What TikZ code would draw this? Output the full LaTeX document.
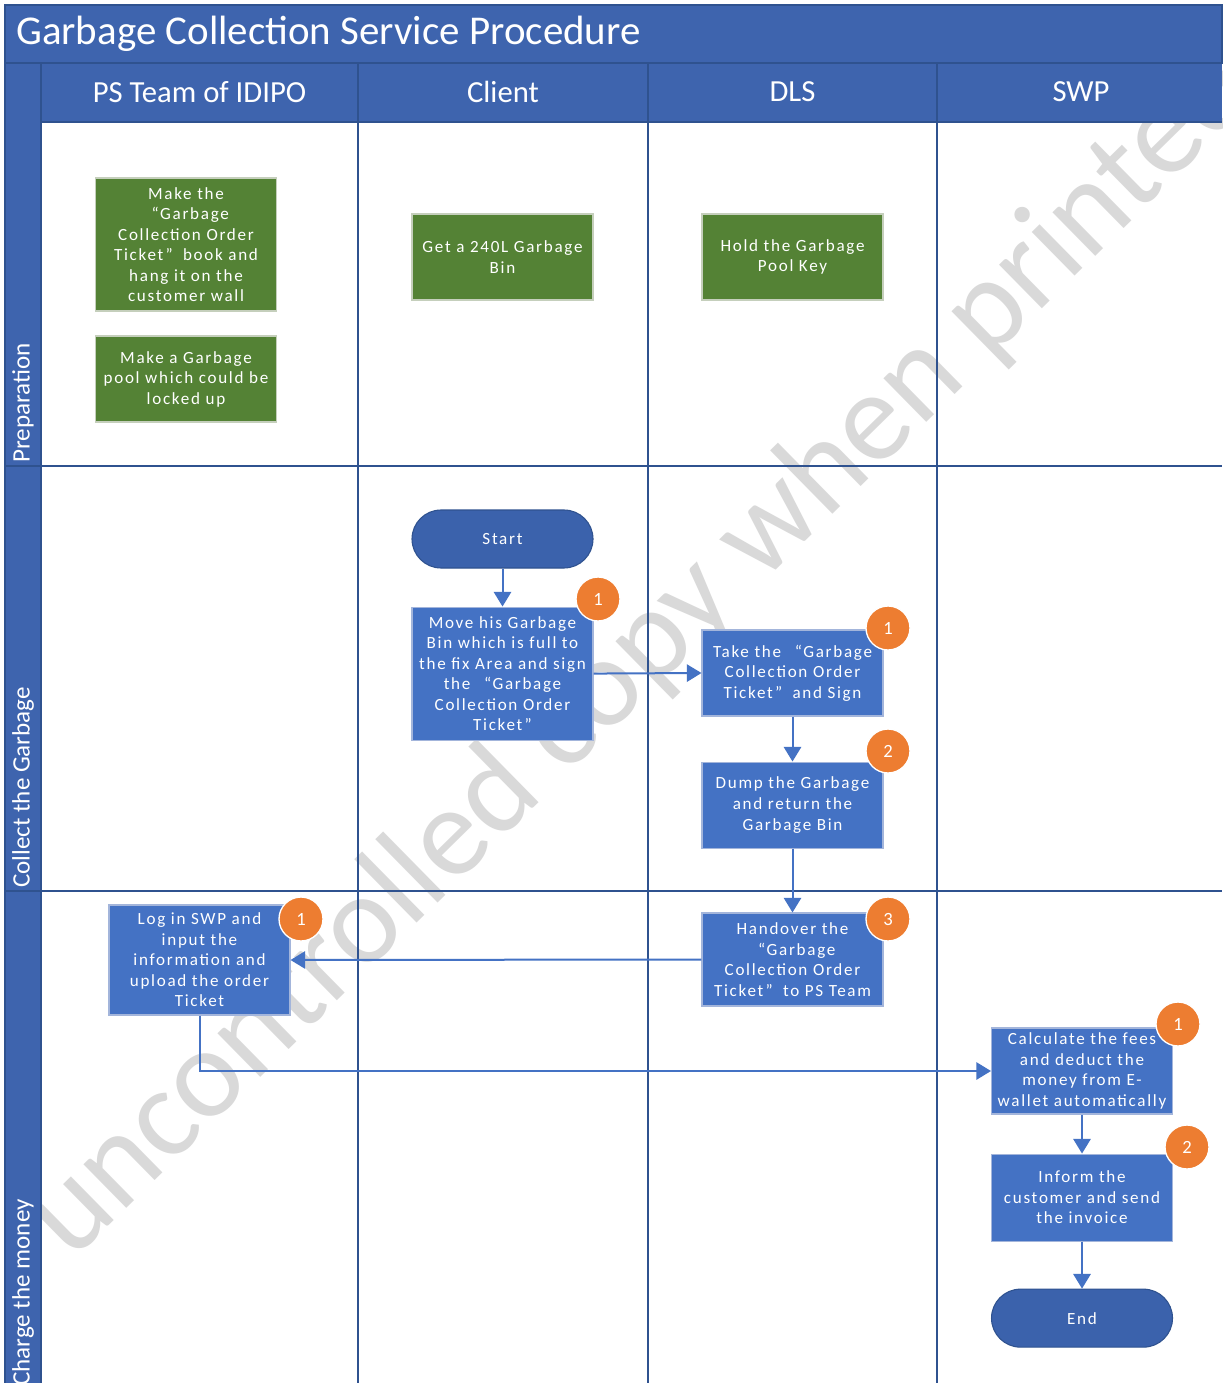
\documentclass[tikz,border=0pt]{standalone}
\usepackage{fontspec}
\setmainfont{Carlito}
\newfontfamily\boxfont[LetterSpace=10]{Carlito}
\usetikzlibrary{arrows.meta, positioning}
\definecolor{headblue}{HTML}{3E64AE}
\definecolor{laneline}{HTML}{2F528F}
\definecolor{procblue}{HTML}{4472C4}
\definecolor{procedge}{HTML}{A3B5DB}
\definecolor{prepgreen}{HTML}{548235}
\definecolor{prepedge}{HTML}{C5CFBC}
\definecolor{steporange}{HTML}{ED7D31}
\definecolor{termblue}{HTML}{3B62AC}
\definecolor{markgray}{HTML}{D9D9D9}

\begin{document}
\begin{tikzpicture}[
    x=0.75pt, y=-0.75pt,
    >={Triangle[length=11pt, width=13pt]},
    boxtext/.style={font=\boxfont\fontsize{12.8}{15.4}\selectfont, text=white, align=center, inner sep=0pt},
    proc/.style={boxtext, draw=procedge, fill=procblue, line width=0.8pt, minimum width=135.75pt, minimum height=64.5pt},
    prep/.style={boxtext, draw=prepedge, fill=prepgreen, line width=0.8pt, minimum width=135.75pt, minimum height=64.5pt},
    term/.style={boxtext, draw=laneline, fill=termblue, line width=0.8pt, rounded corners=21.75pt, minimum width=135.75pt, minimum height=43.5pt},
    badge/.style={circle, draw=white, line width=1pt, fill=steporange, text=white, minimum size=33pt, inner sep=0pt, font=\fontsize{14}{16}\selectfont},
    lanehead/.style={text=white, font=\fontsize{23}{26}\selectfont},
    lanename/.style={text=white, rotate=90, anchor=west, inner sep=0pt, font=\fontsize{18.8}{22}\selectfont},
    flow/.style={draw=procblue, line width=1.5pt, ->}
]

% page and watermark
\fill[white] (0,0) rectangle (1222,1383);
\useasboundingbox (0,0) rectangle (1222,1383);
\begin{scope}
  \clip (0,0) rectangle (1222,1383);
  \node[text=markgray, rotate=44.5, anchor=base west, inner sep=0pt, font=\fontsize{96}{110}\selectfont] (mark) at (72,1262) {uncontrolled copy when printed};
\end{scope}

% title, lane headers and lanes
\fill[headblue] (5,5) rectangle (1222,63);
\fill[headblue] (5,63) rectangle (41,1383);
\fill[headblue] (41,63) rectangle (1222,122);
\draw[laneline, line width=1.5pt] (5,5) rectangle (1222,63);
\draw[laneline, line width=1.2pt] (5,63) -- (5,1383);
\draw[laneline, line width=1.2pt] (41,63) -- (41,1383);
\draw[laneline, line width=1.2pt] (41,122) -- (1222,122);
\foreach \xl in {358,648,937}
  \draw[laneline, line width=1.2pt] (\xl,63) -- (\xl,1383);
\foreach \yl in {466,891}
  \draw[laneline, line width=1.2pt] (5,\yl) -- (1222,\yl);

\node[text=white, anchor=west, inner sep=0pt, font=\fontsize{30.7}{34}\selectfont] (title) at (16,34) {Garbage Collection Service Procedure};
\node[lanehead] (psteam) at (199.5,92) {PS Team of IDIPO};
\node[lanehead] (client) at (503,92) {Client};
\node[lanehead] (dls) at (792.5,92) {DLS};
\node[lanehead] (swp) at (1081,92) {SWP};

\node[lanename] (prepname) at (23,463) {Preparation};
\node[lanename] (collectname) at (23,888) {Collect the Garbage};
\node[lanename] (chargename) at (23,1386) {Charge the money};

% preparation
\node[prep, minimum height=99.75pt] (ticketbook) at (186,244.5) {Make the\\\hspace{0.5em}“Garbage\\Collection Order\\Ticket”\hspace{0.6em}book and\\hang it on the\\customer wall};
\node[prep] (pool) at (186,379) {Make a Garbage\\pool which could be\\locked up};
\node[prep] (getbin) at (502.5,257) {Get a 240L Garbage\\Bin};
\node[prep] (poolkey) at (792.5,257) {Hold the Garbage\\Pool Key};

% collect the garbage
\node[term] (start) at (502.5,539) {Start};
\node[proc, minimum height=99.75pt, below=28.5pt of start] (movebin) {Move his Garbage\\Bin which is full to\\the fix Area and sign\\the\hspace{0.8em}“Garbage\\Collection Order\\Ticket”};
\node[proc] (takesign) at (792.5,673) {Take the\hspace{0.8em}“Garbage\\Collection Order\\Ticket”\hspace{0.6em}and Sign};
\node[proc, below=33.75pt of takesign] (dump) {Dump the Garbage\\and return the\\Garbage Bin};

% charge the money
\node[proc, minimum height=69.75pt] (handover) at (792.5,959.5) {Handover the\\\hspace{0.5em}“Garbage\\Collection Order\\Ticket”\hspace{0.6em}to PS Team};
\node[proc, minimum height=82.5pt] (login) at (199.5,960) {Log in SWP and\\input the\\information and\\upload the order\\Ticket};
\node[proc] (calc) at (1082,1071) {Calculate the fees\\and deduct the\\money from E-\\wallet automatically};
\node[proc, minimum height=65.25pt, below=29.25pt of calc] (inform) {Inform the\\customer and send\\the invoice};
\node[term, below=35.25pt of inform] (end) {End};

% step numbers
\node[badge] (b1) at (598,599) {1};
\node[badge] (b2) at (888,628) {1};
\node[badge] (b3) at (888,751) {2};
\node[badge] (b4) at (888,919) {3};
\node[badge] (b5) at (301,919) {1};
\node[badge] (b6) at (1178,1024) {1};
\node[badge] (b7) at (1187,1147) {2};

% flow
\draw[flow] (start) -- (movebin);
\draw[flow] (movebin.east) -- (takesign.west);
\draw[flow] (takesign) -- (dump);
\draw[flow] (dump) -- (handover);
\draw[flow] (handover.west) -- (login.east);
\draw[flow] (login.south) |- (calc.west);
\draw[flow] (calc) -- (inform);
\draw[flow] (inform) -- (end);

\end{tikzpicture}
\end{document}
